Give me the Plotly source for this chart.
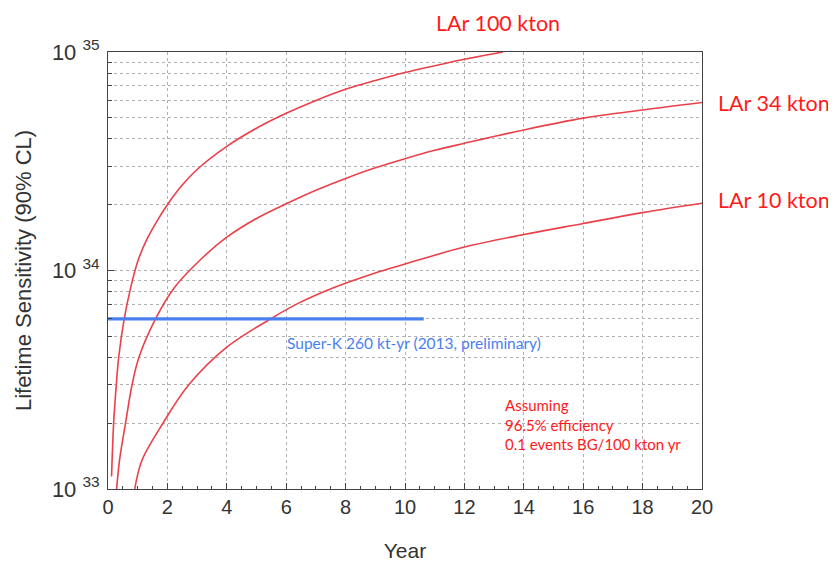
import plotly.graph_objects as go

# Values (year, lifetime sensitivity in years)
years_100 = [0.12, 0.19, 0.28, 0.36, 0.545, 0.76, 1.0, 1.3, 1.6, 2.0, 2.5, 3.0, 4.0, 5.0, 6.0,
             7.0, 8.0, 9.0, 10.0, 11.0, 12.0, 13.3]
sens_100 = [1.14e33, 2.0e33, 3.0e33, 4.0e33, 6.0e33, 8.3e33, 1.1e34, 1.38e34, 1.64e34, 2.0e34, 2.46e34,
            2.9e34, 3.7e34, 4.48e34, 5.24e34, 6.0e34, 6.75e34, 7.4e34, 8.05e34, 8.65e34, 9.26e34, 1.0e35]

years_34 = [0.29, 0.39, 0.59, 0.81, 1.04, 1.6, 2.22, 3.11, 4.0, 5.0, 6.0, 7.0, 8.0, 9.0,
            10.0, 11.0, 12.0, 14.0, 16.0, 18.0, 20.0]
sens_34 = [1.0e33, 1.36e33, 2.0e33, 3.0e33, 4.0e33, 6.0e33, 8.3e33, 1.12e34, 1.42e34, 1.73e34,
           2.02e34, 2.33e34, 2.64e34, 2.95e34, 3.25e34, 3.55e34, 3.82e34, 4.40e34, 4.98e34, 5.43e34, 5.87e34]

years_10 = [0.9, 1.15, 1.85, 2.72, 4.0, 5.47, 6.4, 7.55, 9.0, 10.0, 12.0, 14.0, 16.0, 18.0, 20.0]
sens_10 = [1.0e33, 1.36e33, 2.0e33, 3.0e33, 4.46e33, 6.0e33, 7.07e33, 8.3e33, 9.75e33,
           1.07e34, 1.28e34, 1.46e34, 1.64e34, 1.84e34, 2.03e34]

superk_years = [0.0, 10.63]
superk_limit = [6.0e33, 6.0e33]

x_ticks = list(range(0, 21, 2))
y_ticks = [1e33, 1e34, 1e35]
y_ticktext = ["10 <sup>33</sup>", "10 <sup>34</sup>", "10 <sup>35</sup>"]
y_minor = [m * 10.0 ** e for e in (33, 34) for m in range(2, 10)]

RED = "#ea4049"
BLUE = "#4a7ff0"
TEXT_RED = "#ff1a1a"
AXIS_FONT = "Liberation Sans, Arial, sans-serif"
NOTE_FONT = "Lato, Open Sans, sans-serif"

fig = go.Figure()
for xs, ys in [(years_100, sens_100), (years_34, sens_34), (years_10, sens_10)]:
    fig.add_trace(go.Scatter(x=xs, y=ys, mode="lines",
                             line=dict(color=RED, width=1.6, shape="spline", smoothing=1.0),
                             showlegend=False, hoverinfo="skip"))
fig.add_trace(go.Scatter(x=superk_years, y=superk_limit, mode="lines",
                         line=dict(color=BLUE, width=3.2), showlegend=False, hoverinfo="skip"))

grid = dict(showgrid=True, gridcolor="#b0b0b0", griddash="dot", gridwidth=1)

fig.update_xaxes(
    range=[0, 20], tickvals=x_ticks, ticks="inside", ticklen=6, tickcolor="#444",
    showline=True, linecolor="#444", linewidth=1, mirror=True, automargin=False,
    tickfont=dict(family=AXIS_FONT, size=20, color="#333"),
    minor=dict(dtick=0.5, ticks="inside", ticklen=3, tickcolor="#444", showgrid=False),
    title=dict(text="Year", font=dict(family=AXIS_FONT, size=21, color="#333"), standoff=29),
    zeroline=False, **grid,
)
fig.update_yaxes(
    type="log", range=[33, 35], tickvals=y_ticks, ticktext=y_ticktext,
    ticks="inside", ticklen=6, tickcolor="#444", ticklabelstandoff=3,
    showline=True, linecolor="#444", linewidth=1, mirror=True, automargin=False,
    tickfont=dict(family=AXIS_FONT, size=22, color="#333"),
    minor=dict(tickvals=y_minor, ticks="inside", ticklen=4, tickcolor="#444", **grid),
    title=dict(text="Lifetime Sensitivity (90% CL)", font=dict(family=AXIS_FONT, size=22, color="#333"), standoff=14),
    zeroline=False, **grid,
)

notes = [
    dict(text="LAr 100 kton", x=0.657, y=1.067, xanchor="center"),
    dict(text="LAr 34 kton", x=1.024, y=0.883, xanchor="left"),
    dict(text="LAr 10 kton", x=1.024, y=0.661, xanchor="left"),
]
for n in notes:
    fig.add_annotation(text=n["text"], x=n["x"], y=n["y"], xref="paper", yref="paper",
                       xanchor=n["xanchor"], yanchor="middle", showarrow=False,
                       font=dict(family=NOTE_FONT, size=21.5, color=TEXT_RED))

fig.add_annotation(text="Super-K 260 kt-yr (2013, preliminary)", x=5.97, y=33.667, xref="x", yref="y",
                   xanchor="left", yanchor="middle", showarrow=False,
                   font=dict(family=NOTE_FONT, size=15.5, color=BLUE))
fig.add_annotation(text="Assuming<br>96.5% efficiency<br>0.1 events BG/100 kton yr",
                   x=13.29, y=0.148, xref="x", yref="paper", xanchor="left", yanchor="middle",
                   align="left", showarrow=False,
                   font=dict(family=NOTE_FONT, size=15, color=TEXT_RED))

# the page adds an 8px body margin, so the figure is drawn 8px in from the top-left
fig.update_layout(
    width=828, height=554, margin=dict(l=99.5, r=134.3, t=44, b=73),
    paper_bgcolor="white", plot_bgcolor="white",
)
fig.write_html("out.html")
